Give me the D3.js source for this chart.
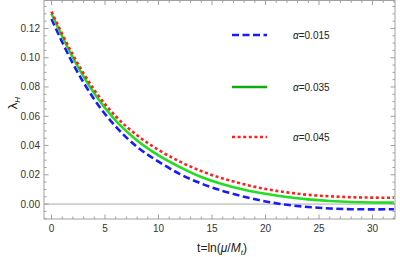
<!DOCTYPE html>
<html><head><meta charset="utf-8">
<script src="https://cdn.jsdelivr.net/npm/d3@7"></script>
<style>body{margin:0;background:#fff}text{font-family:"Liberation Sans",Arial,sans-serif}</style>
</head><body><svg id="c" width="400" height="257"></svg>
<script>
const tValues = [0,2,4,6,8,10,12,14,16,18,20,22,24,26,28,30,32];
const blueValues  = [.1265,.096,.0715,.053,.039,.029,.0205,.0140,.0090,.0050,.0018,-.0005,-.0020,-.0030,-.0035,-.0036,-.0035];
const greenValues = [.130,.100,.0755,.057,.0435,.0333,.0253,.0185,.0135,.0098,.0070,.0048,.0032,.0021,.0014,.0011,.0010];
const redValues   = [.1315,.102,.078,.060,.047,.037,.029,.0225,.0175,.0135,.0103,.0080,.0063,.0053,.0047,.0044,.0043];
const seriesLabels = ["0.015","0.035","0.045"];
const xTicks = [0,5,10,15,20,25,30];
const yTicks = [0,0.02,0.04,0.06,0.08,0.10,0.12];

const svg = d3.select("#c");
const L=44,R=395,T=0.5,B=219;
const x = d3.scaleLinear().domain([-0.7,32.1]).range([L,R]);
const y = d3.scaleLinear().domain([-0.0102,0.1391]).range([B,T]);
const frameCol="#a0a0a0";

svg.append("line").attr("x1",L).attr("x2",R).attr("y1",y(0)).attr("y2",y(0)).attr("stroke","#a8a8a8").attr("stroke-width",1);

const series = [
 {vals:blueValues,color:"#1a1aff",dash:"7,3.5"},
 {vals:greenValues,color:"#22dd22",dash:null},
 {vals:redValues,color:"#ff2020",dash:"3,2.6"}
];
const line = d3.line().x(d=>x(d[0])).y(d=>y(d[1])).curve(d3.curveMonotoneX);
const g = svg.append("g");
series.forEach(s=>{
  g.append("path").datum(tValues.map((t,i)=>[t,s.vals[i]]))
   .attr("d",line).attr("fill","none").attr("stroke",s.color).attr("stroke-width",2.6)
   .attr("stroke-dasharray",s.dash);
});

const fr = svg.append("g");
fr.append("rect").attr("x",L).attr("y",T).attr("width",R-L).attr("height",B-T).attr("fill","none").attr("stroke",frameCol).attr("stroke-width",1);
d3.range(0,33,1).forEach(v=>{
  const len = v%5===0?4.5:2.5;
  fr.append("line").attr("x1",x(v)).attr("x2",x(v)).attr("y1",B).attr("y2",B-len).attr("stroke",frameCol);
  fr.append("line").attr("x1",x(v)).attr("x2",x(v)).attr("y1",T).attr("y2",T+len).attr("stroke",frameCol);
});
d3.range(-0.01,0.1395,0.005).forEach(v=>{
  const major = Math.abs(Math.round(v/0.02)*0.02 - v)<1e-6;
  const len = major?4.5:2.5;
  fr.append("line").attr("x1",L).attr("x2",L+len).attr("y1",y(v)).attr("y2",y(v)).attr("stroke",frameCol);
  fr.append("line").attr("x1",R).attr("x2",R-len).attr("y1",y(v)).attr("y2",y(v)).attr("stroke",frameCol);
});
xTicks.forEach(v=>{
  svg.append("text").attr("x",x(v)).attr("y",B+13).attr("text-anchor","middle").attr("font-size",10).attr("fill","#333").text(v);
});
yTicks.forEach(v=>{
  svg.append("text").attr("x",L-4).attr("y",y(v)+3.5).attr("text-anchor","end").attr("font-size",10).attr("fill","#333").text(v.toFixed(2));
});

const xl = svg.append("text").attr("x",222).attr("y",252).attr("text-anchor","middle").attr("font-size",12).attr("fill","#222");
xl.append("tspan").text("t=ln(");
xl.append("tspan").attr("font-style","italic").text("μ");
xl.append("tspan").text("/");
xl.append("tspan").attr("font-style","italic").text("M");
xl.append("tspan").attr("font-style","italic").attr("font-size",8).attr("dy",2.5).text("t");
xl.append("tspan").attr("dy",-2.5).text(")");

const yl = svg.append("text").attr("transform","translate(17,103) rotate(-90)").attr("text-anchor","middle").attr("font-size",13).attr("fill","#222");
yl.append("tspan").text("λ");
yl.append("tspan").attr("font-style","italic").attr("font-size",8).attr("dy",2.5).text("H");

const legY=[35,87,137];
series.forEach((s,i)=>{
  svg.append("line").attr("x1",232).attr("x2",267).attr("y1",legY[i]).attr("y2",legY[i])
    .attr("stroke",i===1?"#11aa11":s.color).attr("stroke-width",2.6).attr("stroke-dasharray",s.dash);
  const t = svg.append("text").attr("x",293).attr("y",legY[i]+3.5).attr("font-size",10).attr("fill","#222");
  t.append("tspan").attr("font-style","italic").text("α");
  t.append("tspan").text("="+seriesLabels[i]);
});
</script></body></html>
